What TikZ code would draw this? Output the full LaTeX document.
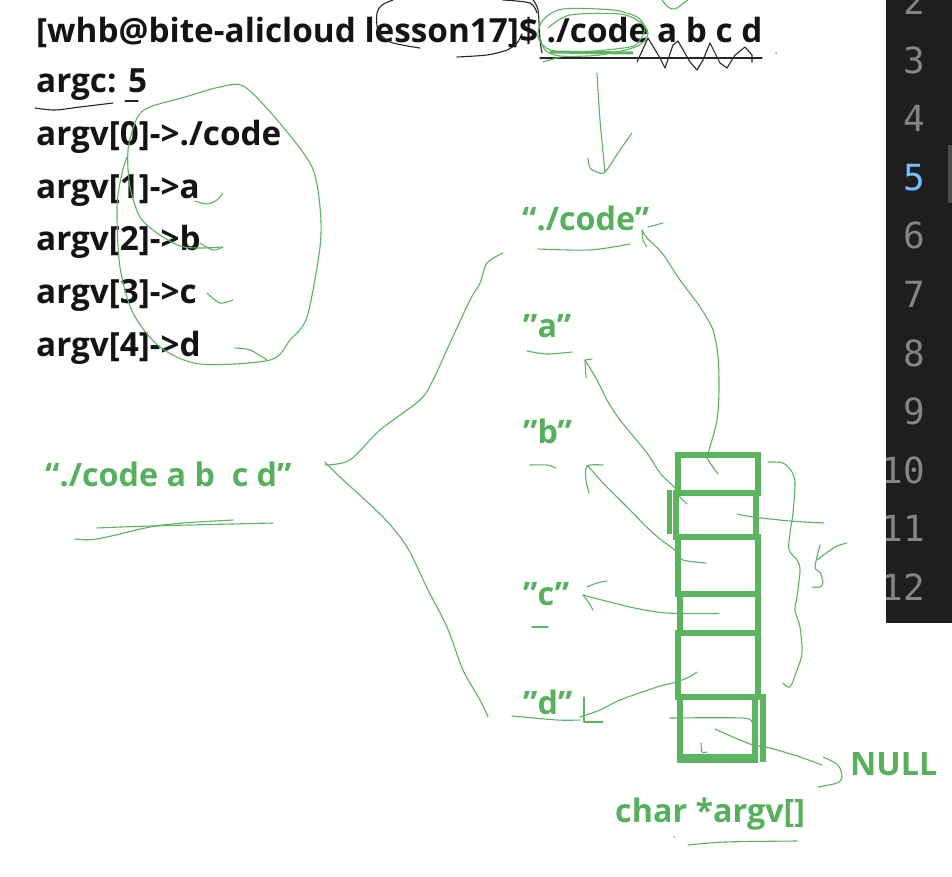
\documentclass[tikz,border=0pt]{standalone}
\usepackage{fontspec}
\setmainfont{Open Sans}
\newfontfamily\lnfont{DejaVu Sans Mono}
\definecolor{pengreen}{RGB}{92,180,96}
\definecolor{txtgreen}{RGB}{86,176,92}
\definecolor{paneldark}{RGB}{30,30,30}
\definecolor{lngrey}{RGB}{133,133,133}
\definecolor{lnblue}{RGB}{117,190,255}
\newcommand{\sq}{\symbol{34}}
\tikzset{
 term/.style={anchor=base west, inner sep=0, font=\fontsize{33.3}{34}\selectfont\bfseries, text=black!92},
 glabel/.style={anchor=base west, inner sep=0, font=\fontsize{32.3}{34}\selectfont\bfseries, text=txtgreen},
 hand/.style={draw=pengreen, line width=1.1pt, line cap=round, line join=round},
 ink/.style={draw=black!85, line width=1.1pt, line cap=round, line join=round},
 cell/.style={draw=pengreen, line width=5.5pt, inner sep=0},
 lnum/.style={anchor=base east, inner sep=0, font=\lnfont\fontsize{36}{36}\selectfont, text=lngrey},
}
\begin{document}
\begin{tikzpicture}[x=1pt,y=-1pt]
\useasboundingbox (0,0) rectangle (952,876);
\fill[white] (0,0) rectangle (952,876);
% editor gutter
\fill[paneldark] (886,0) rectangle (952,623);
\fill[black!70] (948,145) rectangle (952,203);
\begin{scope}
\clip (886,0) rectangle (952,623);
\foreach \n in {2,3,4,6,7,8,9,10,11,12}{
  \node[lnum] (ln\n) at (925,{73+(\n-3)*58.6}) {\n};
}
\node[lnum, text=lnblue] (ln5) at (925,{73+2*58.6}) {5};
\end{scope}
% terminal text
\node[term] (cmd) at (36,42) {[whb@bite-alicloud lesson17]\$ ./code a b c d};
\node[term] (argc) at (36,92) {argc: 5};
\node[term] (av0) at (36,145) {argv[0]->./code};
\node[term] (av1) at (36,198) {argv[1]->a};
\node[term] (av2) at (36,250) {argv[2]->b};
\node[term] (av3) at (36,303) {argv[3]->c};
\node[term] (av4) at (36,356) {argv[4]->d};
% green labels
\node[glabel] (q0) at (522,230) {“./code”};
\node[glabel] (qa) at (523,337) {\sq a\sq};
\node[glabel] (qb) at (523,443) {\sq b\sq};
\node[glabel] (qc) at (523,605) {\sq c\sq};
\node[glabel] (qd) at (523,714) {\sq d\sq};
\node[glabel] (full) at (45,486) {“./code a b\ \ c d”};
\node[glabel] (null) at (850,775) {NULL};
\node[glabel] (decl) at (615,822) {char *argv[]};
% array cells
\node[cell, minimum width=80pt, minimum height=38pt] (c1) at (718,474) {};
\node[cell, minimum width=80pt, minimum height=44pt] (c2) at (716,515) {};
\node[cell, minimum width=80pt, minimum height=57pt] (c3) at (718,565.5) {};
\node[cell, minimum width=78pt, minimum height=39pt] (c4) at (719,613.5) {};
\node[cell, minimum width=80pt, minimum height=64pt] (c5) at (718,665) {};
\node[cell, minimum width=75pt, minimum height=60pt] (c6) at (717.5,727) {};
\draw[pengreen, line width=5.5pt] (c2.north west) ++(-4,0) -- ++(0,44);
\draw[pengreen, line width=5.5pt] (c6.north east) ++(5,0) -- ++(0,68);
\draw[pengreen, line width=5.5pt] (c6.south west) -- (c6.south east);
% black pen strokes
\draw[ink] plot[smooth] coordinates {(35,108) (55,110) (80,107) (113,103)};
\draw[ink] (125,101) -- (138,101);
\draw[ink] plot[smooth] coordinates {(393,0) (382,5) (377,13) (378,30) (390,42) (420,48)};
\draw[ink] plot[smooth] coordinates {(457,57) (487,55) (507,50) (517,43) (522,34)};
\draw[ink] plot[smooth] coordinates {(503,0) (530,3) (537,13)};
\draw[ink] plot[smooth] coordinates {(533,0) (538,10) (540,40) (542,53)};
\draw[ink] (540,58) -- (762,58);
\draw[ink] (637,62) -- (648,38) -- (660,58) -- (665,68) -- (673,45) -- (678,41) -- (690,62) -- (697,70) -- (703,60) -- (710,43) -- (720,63) -- (727,68) -- (735,55) -- (745,47) -- (752,55) -- (752,62);
% green strokes: terminal
\draw[hand] plot[smooth] coordinates {(222,247) (200,248) (180,246) (157,233) (140,217) (130,187) (128,150) (137,118) (150,107) (185,97) (220,87) (245,87) (283,127) (312,167) (320,207) (320,247) (307,317) (290,340) (270,360) (200,364) (160,347) (133,313) (120,267) (117,207) (122,173) (127,157)};
\draw[hand] plot[smooth] coordinates {(195,201) (207,204) (217,200) (223,193)};
\draw[hand] plot[smooth] coordinates {(200,243) (213,250) (223,247)};
\draw[hand] plot[smooth] coordinates {(207,293) (220,303) (233,300)};
\draw[hand] plot[smooth] coordinates {(235,348) (250,350) (267,360)};
\draw[hand] plot[smooth cycle] coordinates {(543,20) (563,9) (613,10) (637,17) (645,28) (640,40) (630,47) (580,52) (550,50) (538,37)};
\draw[hand] plot[smooth] coordinates {(548,28) (570,15) (620,14) (640,22) (648,33) (638,46) (600,55) (560,56) (545,50) (541,40)};
\draw[pengreen, line width=3pt] (550,52) -- (633,53);
\draw[hand] (543,62) -- (560,57);
\draw[hand] plot[smooth] coordinates {(662,0) (668,7) (675,9) (685,2) (688,0)};
\fill[pengreen] (776,53) circle (1pt);
% arrow to "./code"
\draw[hand] plot[smooth] coordinates {(597,73) (600,120) (605,172)};
\draw[hand] plot[smooth] coordinates {(588,158) (590,168) (597,172) (605,172) (620,150) (632,133)};
\draw[hand] plot[smooth] coordinates {(538,249) (590,250) (630,244)};
% big bracket
\draw[hand] plot[smooth] coordinates {(325,465) (350,460) (380,430) (420,400) (433,380) (450,343) (470,300) (480,283) (487,263) (503,253)};
\draw[hand] plot[smooth] coordinates {(325,462) (340,477) (383,517) (407,547) (428,590) (447,627) (463,670) (480,700) (488,717)};
\draw[hand] plot[smooth] coordinates {(75,539) (97,539) (150,527) (183,523) (233,520)};
\draw[hand] plot[smooth] coordinates {(97,528) (150,526) (273,523)};
% underlines of string labels
\draw[hand] plot[smooth] coordinates {(527,351) (547,354) (572,352)};
\draw[hand] plot[smooth] coordinates {(530,465) (547,465) (556,468)};
\draw[hand] (532,627) -- (548,627);
\draw[hand] plot[smooth] coordinates {(512,716) (557,720) (580,720)};
% pointers from the cells
\draw[hand] plot[smooth] coordinates {(c1.center) (707,458) (708,453) (710,447) (717,420) (719,390) (718,357) (713,330) (700,307) (680,280) (662,253) (647,238) (642,230)};
\draw[hand] plot[smooth] coordinates {(642,230) (643,240) (647,247)};
\draw[hand] (648,227) -- (663,223);
\draw[hand] plot[smooth] coordinates {(687,504) (680,497) (675,488) (660,473) (647,453) (620,420) (607,400) (597,380) (585,360)};
\draw[hand] (586,378) -- (585,360) -- (592,359);
\draw[hand] plot[smooth] coordinates {(706,563) (683,560) (677,552) (653,533) (623,503) (603,483) (588,466)};
\draw[hand] plot[smooth] coordinates {(589,493) (586,480) (587,466) (603,465)};
\draw[hand] plot[smooth] coordinates {(c4.center) (667,613) (630,607) (583,595)};
\draw[hand] plot[smooth] coordinates {(583,595) (589,603) (593,610)};
\draw[hand] plot[smooth] coordinates {(587,587) (597,583) (607,581)};
\draw[hand] plot[smooth] coordinates {(697,672) (687,678) (673,683) (657,687) (620,700) (600,710) (580,717)};
\draw[hand] (584,697) -- (584,722) -- (603,722);
% last cell: NULL
\draw[hand] plot[smooth] coordinates {(670,718) (743,718) (752,723)};
\draw[hand] plot[smooth] coordinates {(701,743) (702,752) (707,752)};
\draw[hand] plot[smooth] coordinates {(715,729) (733,737) (753,745) (770,748) (800,757) (822,765)};
\draw[hand] plot[smooth] coordinates {(823,757) (838,765) (842,777) (837,783) (818,787)};
% right side scribbles
\draw[hand] plot[smooth] coordinates {(737,514) (753,517) (790,521) (824,523)};
\draw[hand] plot[smooth] coordinates {(768,462) (783,463) (792,472) (795,483) (793,513) (790,533) (789,550) (797,560) (800,570) (797,597) (795,610) (800,627) (802,653) (797,670) (790,687) (783,683)};
\draw[hand] plot[smooth] coordinates {(847,543) (835,547) (817,560)};
\draw[hand] plot[smooth] coordinates {(820,545) (815,567) (820,572) (823,582) (820,587) (812,587)};
\draw[hand] plot[smooth] coordinates {(688,845) (725,842) (797,841)};
\fill[pengreen] (674,837) circle (0.8pt);
\end{tikzpicture}
\end{document}
